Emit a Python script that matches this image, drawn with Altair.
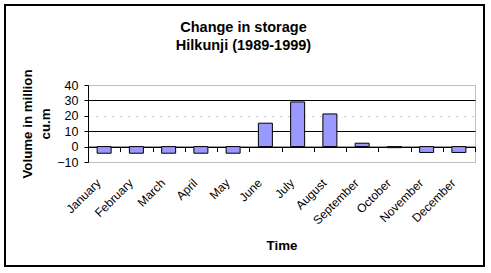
import altair as alt
import pandas as pd

months = ["January", "February", "March", "April", "May", "June", "July",
          "August", "September", "October", "November", "December"]
values = [-4.3, -4.3, -4.3, -4.3, -4.3, 15.2, 29.0, 21.2, 2.2, -0.7, -3.8, -3.8]
y_ticks = [-10, 0, 10, 20, 30, 40]

df = pd.DataFrame({"Month": months, "Change": values})

FONT = "Liberation Sans"
W, H = 387, 77

xscale = alt.Scale(paddingInner=0, paddingOuter=0)
yscale = alt.Scale(domain=[-10, 40], nice=False, zero=False)

y_axis = alt.Axis(values=y_ticks, title=["Volume in million", "cu.m"],
                  labelOverlap=False,
                  titleFont=FONT, titleFontSize=13.3, titleFontWeight="bold",
                  titleColor="black", titleLineHeight=17.5,
                  titleBaseline="alphabetic", titleAlign="center", titleAngle=270,
                  titleX=-56.5, titleY=H / 2,
                  labelFont=FONT, labelFontSize=12.5, labelColor="black",
                  labelPadding=6, tickSize=4, tickColor="black",
                  domainColor="black", grid=True,
                  gridColor={"condition": [
                      {"test": "datum.value == 40 || datum.value == -10", "value": "transparent"},
                      {"test": "datum.value == 20", "value": "#8c8c8c"}],
                      "value": "black"},
                  gridDash={"condition": {"test": "datum.value == 20", "value": [1, 7]},
                            "value": []})
y_enc = alt.Y("Change:Q", scale=yscale, axis=y_axis)

base = alt.Chart(df)

bars = base.mark_bar(size=14, color="#9999FF", stroke="black", strokeWidth=1).encode(
    x=alt.X("Month:N", sort=months, scale=xscale,
            axis=alt.Axis(title="Time", labelAngle=-45, labelFontSize=12, labelFont=FONT,
                          labelColor="black", ticks=False, domain=False, labelPadding=15,
                          labelOffset=-9,
                          titleFont=FONT, titleFontSize=13.3, titleFontWeight="bold",
                          titleColor="black", titleBaseline="alphabetic", titleY=87)),
    y=y_enc,
)

tick_layer = base.mark_bar(opacity=0).encode(
    x=alt.X("Month:N", sort=months, scale=xscale,
            axis=alt.Axis(orient="bottom", offset=-H * 10 / 50, labels=False, title=None,
                          domainColor="black", tickColor="black", tickSize=5,
                          tickBand="extent", grid=False)),
    y=y_enc,
)

frame = alt.Chart(df).mark_rect(fillOpacity=0, stroke="black", strokeWidth=1.5).encode(
    x=alt.value(-83), x2=alt.value(396), y=alt.value(-80), y2=alt.value(181)
)

chart = alt.layer(bars, tick_layer, frame).resolve_scale(x="independent").properties(
    width=W, height=H,
    padding={"left": 88, "top": 85, "right": 16, "bottom": 111},
    autosize=alt.AutoSizeParams(type="none"),
    title=alt.TitleParams(["Change in storage", "Hilkunji (1989-1999)"], font=FONT,
                          fontSize=14.5, fontWeight="bold", color="black", anchor="middle",
                          frame="group", dx=-38, offset=-49, lineHeight=18),
    background="white",
).configure_view(stroke="#808080", strokeDash=[1, 1], strokeWidth=1)

chart.save("out.html", embed_options={"renderer": "svg", "actions": False})
